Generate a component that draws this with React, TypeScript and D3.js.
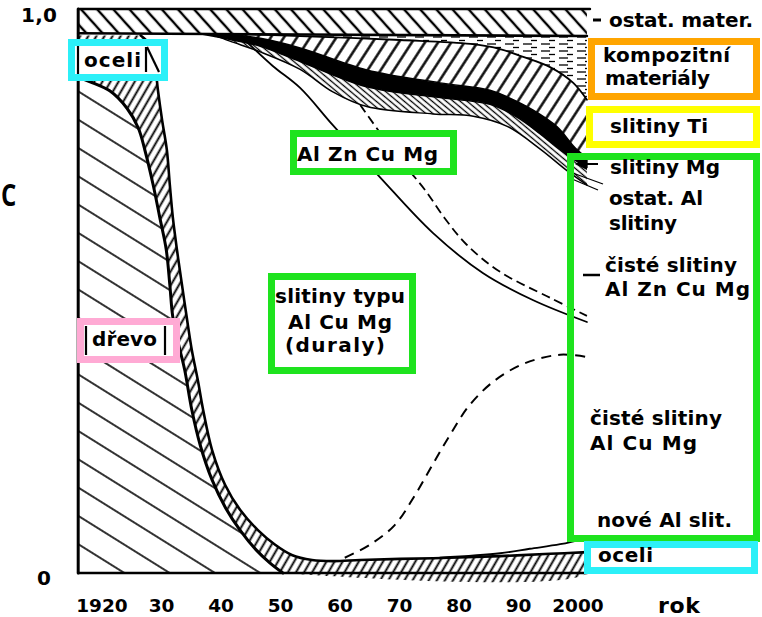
import * as d3 from 'd3';

type Pt = [number, number];

// year axis
const TICK_YEARS = [1920, 1930, 1940, 1950, 1960, 1970, 1980, 1990, 2000];
const TICK_LABELS = ['1920', '30', '40', '50', '60', '70', '80', '90', '2000'];
const YEAR_START = 1916;
const YEAR_END = 2001.5;

// boundary curves as [year, share]
const OTHER_LOWER: Pt[] = [[1916, 0.957], [2001.5, 0.952]];
const COMPOSITE_TOP: Pt[] = [[1941.5, 0.956], [2001.5, 0.952]];
const TI_UPPER: Pt[] = [[1941.5, 0.956], [1953.3, 0.952], [1970.1, 0.945], [1981.9, 0.938], [1986.9, 0.929], [1990.8, 0.915], [1995.3, 0.897], [1999.2, 0.869], [2001.5, 0.839]];
const MG_TOP: Pt[] = [[1936.5, 0.956], [1941.5, 0.955], [1946.6, 0.948], [1953.3, 0.931], [1964.5, 0.892], [1976.8, 0.869], [1985.2, 0.856], [1988.1, 0.844], [1992.4, 0.821], [1996.5, 0.791], [1999.5, 0.754], [2001.5, 0.736]];
const MG_BOTTOM: Pt[] = [[1936.5, 0.956], [1941.5, 0.946], [1946.6, 0.934], [1953.3, 0.907], [1964.5, 0.862], [1976.8, 0.843], [1985.2, 0.831], [1989.8, 0.808], [1993.6, 0.779], [1997.0, 0.750], [1999.5, 0.732], [2001.5, 0.720]];
const OSTAT_AL_LOWER: Pt[] = [[1938.5, 0.955], [1941.5, 0.943], [1946.6, 0.924], [1953.3, 0.893], [1958.8, 0.853], [1964.5, 0.827], [1975.6, 0.814], [1982.4, 0.810], [1988.1, 0.792], [1993.6, 0.752], [1998.2, 0.713], [2001.5, 0.688]];
const ZN_SOLID: Pt[] = [[1944.0, 0.945], [1948.7, 0.899], [1953.3, 0.860], [1958.8, 0.794], [1966.7, 0.702], [1975.6, 0.603], [1984.0, 0.532], [1992.4, 0.484], [2001.5, 0.445]];
const ZN_DASHED: Pt[] = [[1963.4, 0.830], [1967.6, 0.768], [1970.9, 0.723], [1974.3, 0.679], [1977.6, 0.629], [1981.3, 0.582], [1986.9, 0.534], [1995.3, 0.488], [2001.5, 0.456]];
const CU_DASHED: Pt[] = [[1960.8, 0.027], [1965.0, 0.050], [1969.2, 0.085], [1972.6, 0.138], [1975.5, 0.191], [1978.5, 0.245], [1981.8, 0.298], [1986.1, 0.342], [1991.1, 0.372], [1997.0, 0.387], [2001.5, 0.383]];
// wood / steel boundary
const STEEL_INNER: Pt[] = [[1916.0, 0.879], [1918.0, 0.871], [1921.3, 0.855], [1924.2, 0.824], [1926.1, 0.789], [1927.2, 0.750], [1928.6, 0.688], [1929.7, 0.631], [1930.8, 0.573], [1931.4, 0.511], [1931.9, 0.454], [1932.9, 0.404], [1933.9, 0.360], [1935.1, 0.289], [1936.5, 0.227], [1938.5, 0.165], [1940.8, 0.115], [1943.2, 0.076], [1945.9, 0.041], [1948.2, 0.018], [1950.4, 0.0]];
const STEEL_OUTER: Pt[] = [[1926.5, 0.953], [1928.1, 0.936], [1928.9, 0.901], [1929.4, 0.856], [1930.1, 0.803], [1930.9, 0.750], [1931.4, 0.688], [1931.9, 0.631], [1932.6, 0.573], [1933.4, 0.514], [1934.3, 0.449], [1935.1, 0.395], [1936.1, 0.342], [1937.0, 0.289], [1938.5, 0.218], [1940.7, 0.156], [1943.2, 0.112], [1946.2, 0.076], [1949.1, 0.050], [1951.9, 0.032], [1955.3, 0.023]];
const BOTTOM_TOP: Pt[] = [[1958.8, 0.021], [1963.4, 0.023], [1970.1, 0.025], [1978.5, 0.027], [1986.9, 0.030], [1995.3, 0.034], [2001.5, 0.037]];
const NEW_AL: Pt[] = [[1976.8, 0.027], [1986.9, 0.035], [1991.9, 0.043], [1997.0, 0.051], [2001.5, 0.062]];

const W = 762;
const H = 617;
const FONT = '"DejaVu Sans", "Liberation Sans", Arial, sans-serif';

const x = d3.scaleLinear().domain([1920, 2000]).range([102, 578]);
const y = d3.scaleLinear().domain([0, 1]).range([573, 9]);

const curve = d3
  .line<Pt>()
  .x((d) => x(d[0]))
  .y((d) => y(d[1]))
  .curve(d3.curveCatmullRom.alpha(0.5));

// join several curve pieces into one closed outline
const region = (...parts: Pt[][]) =>
  parts
    .map((p, i) => {
      const s = curve(p) || '';
      return i === 0 ? s : 'L' + s.slice(1);
    })
    .join('') + 'Z';

const rev = (p: Pt[]) => [...p].reverse();

const hatches = [
  { id: 'hOther', size: 12, angle: -42, w: 2.4 },
  { id: 'hDrevo', size: 24, angle: -58, w: 1.6 },
  { id: 'hSteel', size: 7, angle: 30, w: 1.9 },
  { id: 'hTi', size: 11, angle: 33, w: 2.4 },
  { id: 'hAl', size: 4.5, angle: -50, w: 1.3 },
];

// annotation boxes drawn over the scan
const boxes = [
  { x0: 68, y0: 39, x1: 168, y1: 81, color: '#2cf0f8', fill: '#fff' },
  { x0: 290, y0: 130, x1: 457, y1: 175, color: '#1ee31e', fill: '#fff' },
  { x0: 268, y0: 273, x1: 416, y1: 374, color: '#1ee31e', fill: '#fff' },
  { x0: 77, y0: 318, x1: 180, y1: 363, color: '#ffaad4', fill: '#fff' },
  { x0: 588, y0: 38, x1: 760, y1: 100, color: '#ffa500', fill: '#fff' },
  { x0: 586, y0: 106, x1: 760, y1: 148, color: '#ffff00', fill: '#fff' },
  { x0: 567, y0: 153, x1: 760, y1: 542, color: '#1ee31e', fill: 'none' },
  { x0: 584, y0: 541, x1: 758, y1: 574, color: '#2cf0f8', fill: '#fff' },
];

const labels = [
  { t: 'oceli', x: 84, y: 67, w: 57 },
  { t: 'Al Zn Cu Mg', x: 297, y: 161, w: 141 },
  { t: 'slitiny typu', x: 275, y: 303, w: 130 },
  { t: 'Al Cu Mg', x: 288, y: 329, w: 104 },
  { t: '(duraly)', x: 285, y: 352, w: 100 },
  { t: 'dřevo', x: 92, y: 346, w: 65 },
  { t: 'ostat. mater.', x: 609, y: 27, w: 144 },
  { t: 'kompozitní', x: 603, y: 62, w: 127 },
  { t: 'materiály', x: 605, y: 85, w: 105 },
  { t: 'slitiny Ti', x: 610, y: 133, w: 98 },
  { t: 'slitiny Mg', x: 610, y: 174, w: 110 },
  { t: 'ostat. Al', x: 609, y: 205, w: 94 },
  { t: 'slitiny', x: 609, y: 230, w: 68 },
  { t: 'čisté slitiny', x: 605, y: 272, w: 132 },
  { t: 'Al Zn Cu Mg', x: 605, y: 296, w: 145 },
  { t: 'čisté slitiny', x: 590, y: 425, w: 132 },
  { t: 'Al Cu Mg', x: 590, y: 450, w: 107 },
  { t: 'nové Al slit.', x: 597, y: 527, w: 135 },
  { t: 'oceli', x: 598, y: 562, w: 55 },
];

export default function App() {
  const x0 = x(YEAR_START);
  const x1 = x(YEAR_END);

  const topBand = region([[YEAR_START, 1], [YEAR_END, 1]], rev(OTHER_LOWER));
  const composite = region(COMPOSITE_TOP, rev(TI_UPPER));
  const tiBand = region(TI_UPPER, rev(MG_TOP));
  const mgBand = region(MG_TOP, rev(MG_BOTTOM));
  const alBand = region(MG_BOTTOM, rev(OSTAT_AL_LOWER));
  const drevo = region([[YEAR_START, 0], [YEAR_START, 0.879]], STEEL_INNER);
  const steel = region(
    [[YEAR_START, 0.953], [1926.5, 0.953]],
    [...STEEL_OUTER, ...BOTTOM_TOP],
    [[YEAR_END, 0.037], [YEAR_END, 0], [1950.4, 0]],
    rev(STEEL_INNER),
    [[YEAR_START, 0.879], [YEAR_START, 0.953]]
  );

  return (
    <svg
      width={W}
      height={H}
      style={{ position: 'absolute', left: 0, top: 0, background: '#fff' }}
    >
      <defs>
        {hatches.map((h) => (
          <pattern
            key={h.id}
            id={h.id}
            width={h.size}
            height={h.size}
            patternUnits="userSpaceOnUse"
            patternTransform={`rotate(${h.angle})`}
          >
            <rect width={h.size} height={h.size} fill="#fff" />
            <line x1={h.size / 2} y1={-1} x2={h.size / 2} y2={h.size + 1} stroke="#000" strokeWidth={h.w} />
          </pattern>
        ))}
        <pattern id="hComp" width={18} height={7} patternUnits="userSpaceOnUse">
          <rect width={18} height={7} fill="#fff" />
          <line x1={1} y1={2} x2={10} y2={2} stroke="#000" strokeWidth={1.3} />
          <line x1={9} y1={5.5} x2={15} y2={5.5} stroke="#000" strokeWidth={1.3} />
        </pattern>
      </defs>

      <rect width={W} height={H} fill="#fff" />

      {/* filled bands */}
      <path d={topBand} fill="url(#hOther)" />
      <path d={composite} fill="url(#hComp)" />
      <path d={tiBand} fill="url(#hTi)" />
      <path d={alBand} fill="url(#hAl)" />
      <path d={mgBand} fill="#000" stroke="#000" strokeWidth={1.5} />
      <path d={drevo} fill="url(#hDrevo)" />
      <path d={steel} fill="url(#hSteel)" />

      {/* outlines */}
      <g fill="none" stroke="#000" strokeLinecap="round">
        <line x1={x0} x2={x(2002)} y1={y(1)} y2={y(1)} strokeWidth={2.6} />
        <line x1={x0} x2={x0} y1={y(1)} y2={y(0)} strokeWidth={3} />
        <line x1={x0} x2={x1} y1={y(0)} y2={y(0)} strokeWidth={2.6} />
        <path d={curve(OTHER_LOWER) || ''} strokeWidth={2.6} />
        <path d={curve(TI_UPPER) || ''} strokeWidth={1.8} />
        <path d={curve(OSTAT_AL_LOWER) || ''} strokeWidth={1.5} />
        <path d={curve(STEEL_INNER) || ''} strokeWidth={3} />
        <path d={curve([...STEEL_OUTER, ...BOTTOM_TOP]) || ''} strokeWidth={2.6} />
        <path d={curve(NEW_AL) || ''} strokeWidth={1.8} />
        <path d={curve(ZN_SOLID) || ''} strokeWidth={1.8} />
        <path d={curve(ZN_DASHED) || ''} strokeWidth={1.8} strokeDasharray="9,5" strokeLinecap="butt" />
        <path d={curve(CU_DASHED) || ''} strokeWidth={2} strokeDasharray="10,7" strokeLinecap="butt" />
      </g>

      {/* leader marks */}
      <g stroke="#000" fill="none">
        <line x1={593} x2={601} y1={20} y2={20} strokeWidth={3} />
        <line x1={597} x2={598} y1={46} y2={60} strokeWidth={2} />
        <line x1={586} x2={598} y1={164} y2={164} strokeWidth={2} />
        <line x1={570} x2={603} y1={172} y2={184} strokeWidth={1.3} />
        <line x1={572} x2={598} y1={179} y2={190} strokeWidth={1.3} />
        <line x1={583} x2={600} y1={275} y2={275} strokeWidth={2.5} />
      </g>
      <polygon points="575,164 587,158 587,170" fill="#000" />

      {/* annotation boxes */}
      {boxes.map((b, i) => (
        <rect
          key={i}
          x={b.x0 + 3.5}
          y={b.y0 + 3.5}
          width={b.x1 - b.x0 - 7}
          height={b.y1 - b.y0 - 7}
          fill={b.fill}
          stroke={b.color}
          strokeWidth={7}
        />
      ))}
      <g stroke="#000" strokeWidth={2.2}>
        <line x1={78} x2={78} y1={46} y2={74} />
        <line x1={146} x2={146} y1={47} y2={72} />
        <line x1={147} x2={159} y1={47} y2={72} />
        <line x1={86} x2={86} y1={326} y2={355} />
        <line x1={165} x2={165} y1={326} y2={355} />
      </g>

      {/* texts */}
      <g fontFamily={FONT} fontWeight="bold" fontSize={20} fill="#000">
        {labels.map((l, i) => (
          <text key={i} x={l.x} y={l.y} textLength={l.w} lengthAdjust="spacing">
            {l.t}
          </text>
        ))}
        {TICK_YEARS.map((yr, i) => (
          <text key={yr} x={x(yr)} y={612} textAnchor="middle" fontSize={18.5}>
            {TICK_LABELS[i]}
          </text>
        ))}
        <text x={658} y={613} fontSize={22} textLength={42} lengthAdjust="spacing">rok</text>
        <text x={21} y={22} textLength={36} lengthAdjust="spacing">1,0</text>
        <text x={37} y={585}>0</text>
      </g>
      <text
        transform="translate(1,206) scale(0.8,1)"
        fontFamily='"Open Sans", sans-serif'
        fontWeight="bold"
        fontSize={30}
        fill="#000"
      >
        C
      </text>
    </svg>
  );
}
